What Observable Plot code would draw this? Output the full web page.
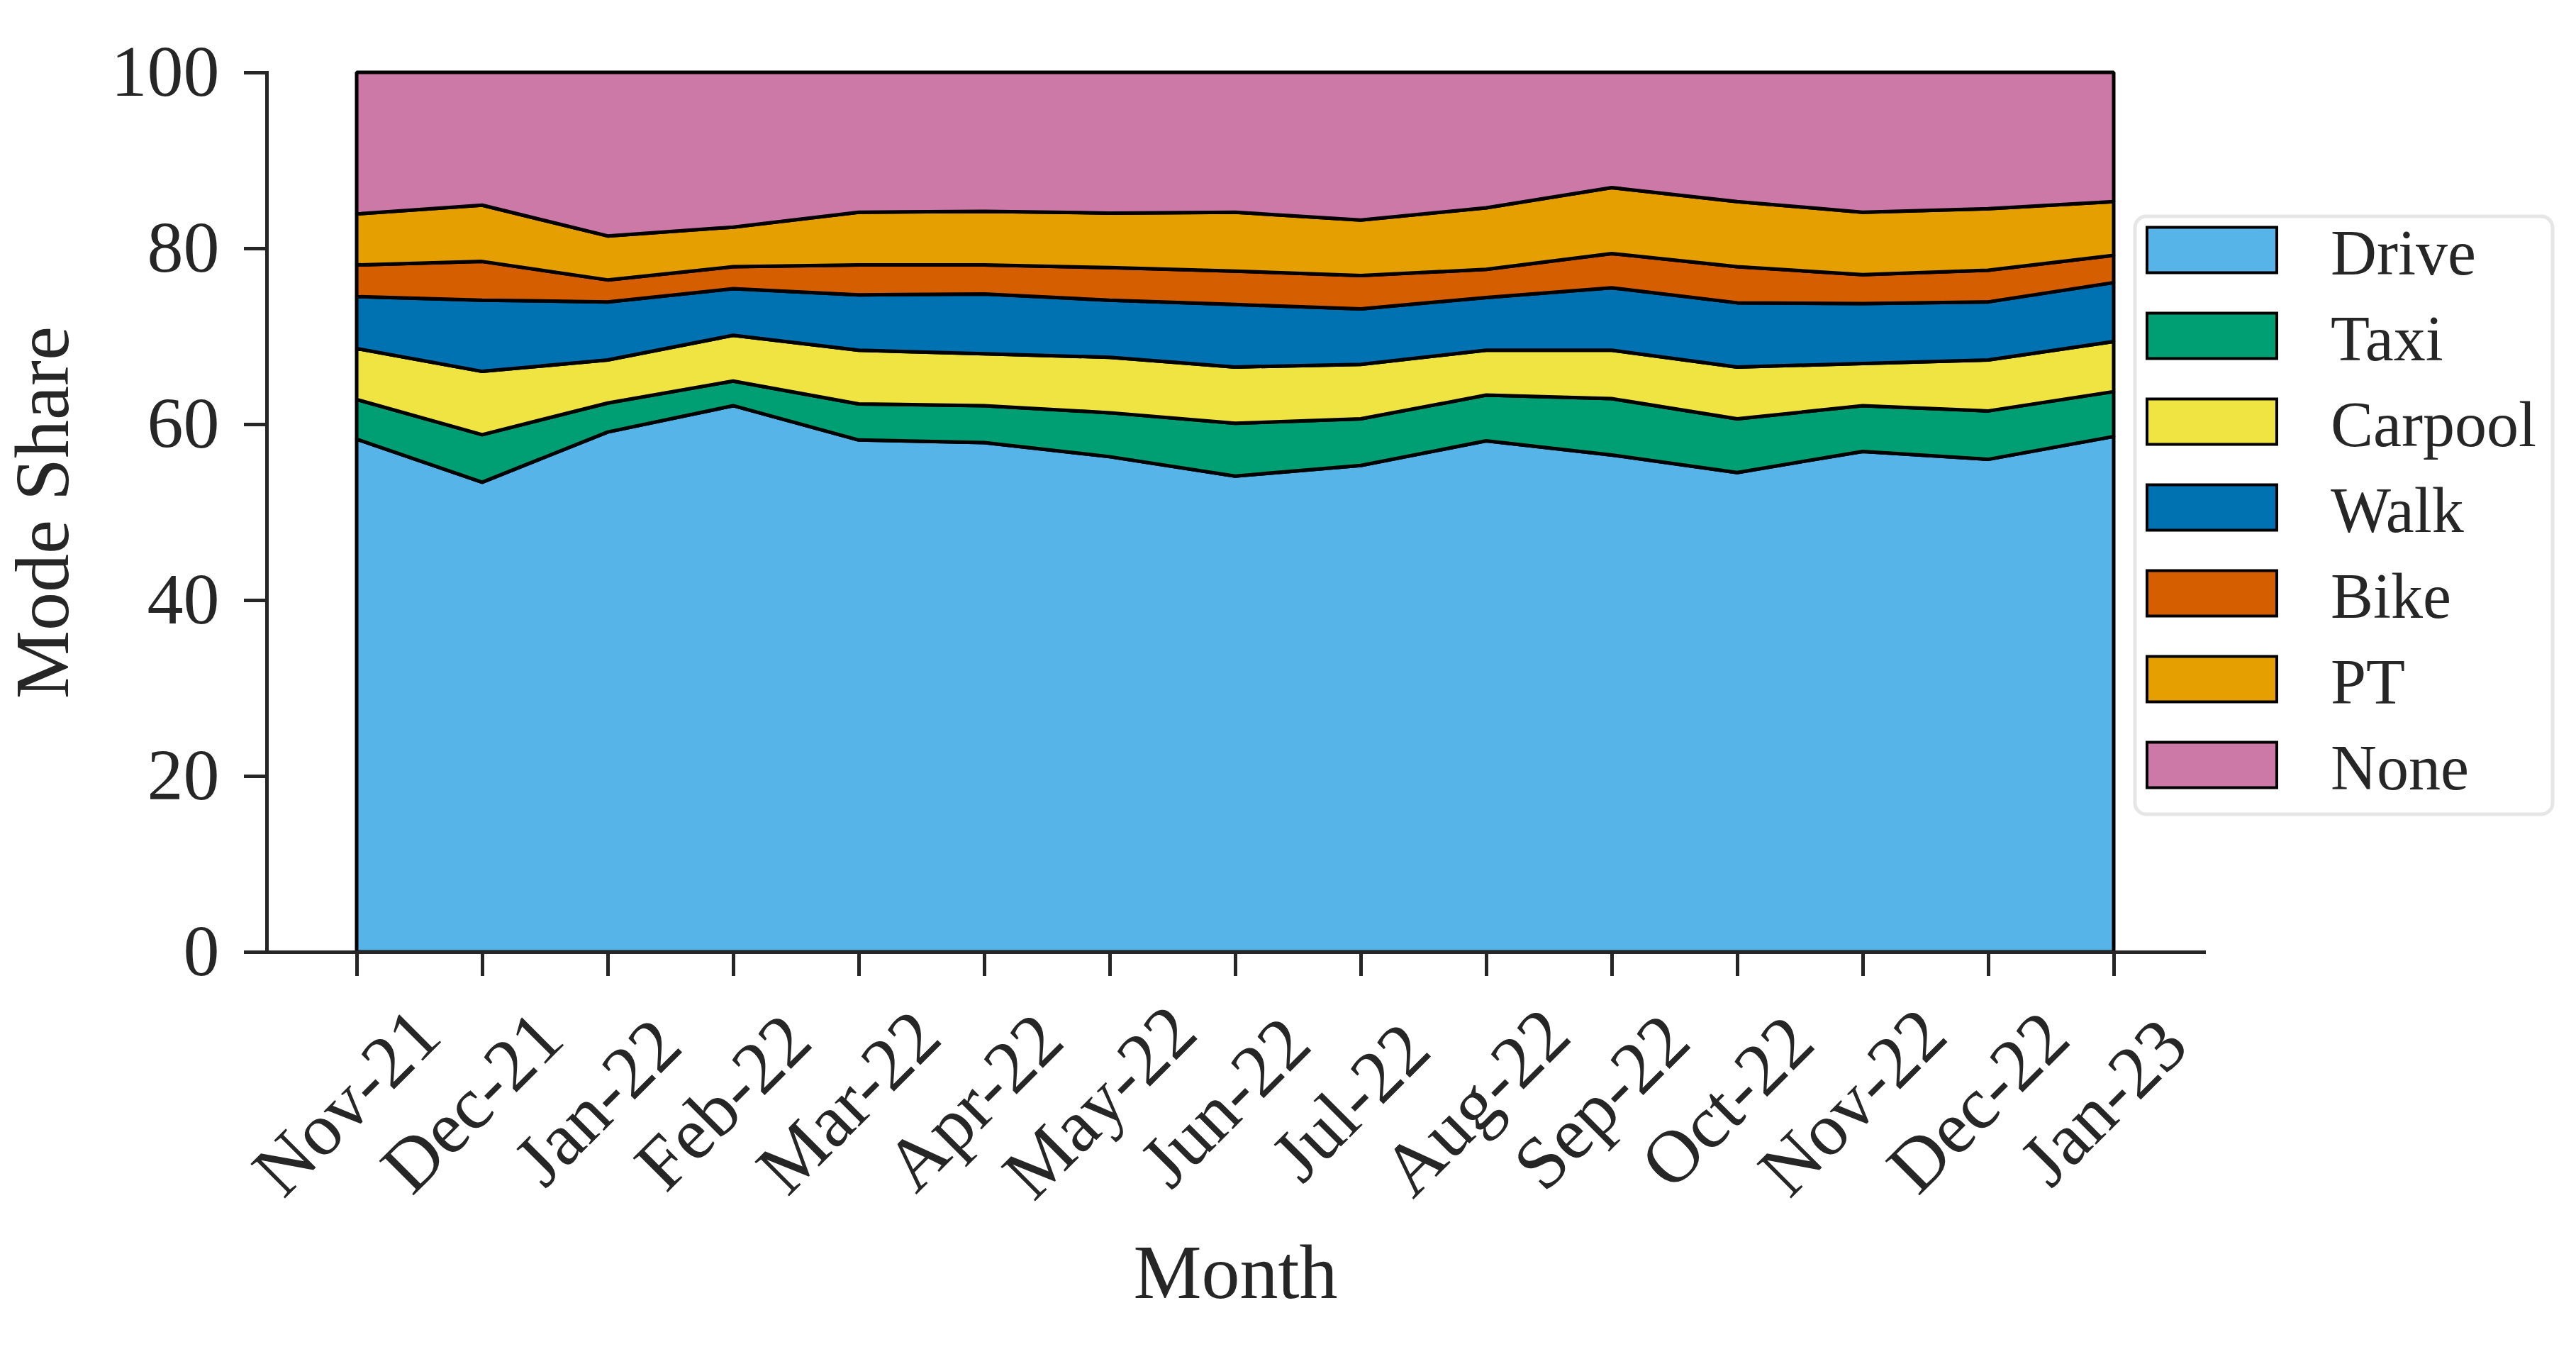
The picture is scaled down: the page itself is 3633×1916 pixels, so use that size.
<!DOCTYPE html>
<html><head><meta charset="utf-8">
<script src="https://cdn.jsdelivr.net/npm/d3@7"></script>
<script src="https://cdn.jsdelivr.net/npm/@observablehq/plot@0.6"></script>
<style>
body{margin:0;background:#fff;}
#wrap{position:relative;width:3633px;height:1916px;}
#wrap svg{display:block;}
</style>
</head><body><div id="wrap"></div>
<script>
const months = ["Nov-21","Dec-21","Jan-22","Feb-22","Mar-22","Apr-22","May-22","Jun-22","Jul-22","Aug-22","Sep-22","Oct-22","Nov-22","Dec-22","Jan-23"];
const modes = ["Drive","Taxi","Carpool","Walk","Bike","PT","None"];
const colors = ["#56B4E9","#009E73","#F0E442","#0072B2","#D55E00","#E69F00","#CC79A7"];

const drive   = [58.3,53.4,59.1,62.1,58.2,57.9,56.3,54.1,55.3,58.1,56.5,54.5,56.9,56.0,58.6];
const taxi    = [4.5,5.4,3.3,2.8,4.1,4.2,5.0,6.0,5.3,5.2,6.4,6.1,5.2,5.5,5.1];
const carpool = [5.8,7.2,4.9,5.2,6.1,5.9,6.3,6.4,6.2,5.1,5.5,5.9,4.8,5.8,5.7];
const walk    = [5.9,8.1,6.6,5.3,6.3,6.8,6.5,7.1,6.3,6.0,7.1,7.3,6.8,6.6,6.7];
const bike    = [3.6,4.4,2.5,2.5,3.4,3.3,3.7,3.8,3.8,3.2,3.9,4.1,3.3,3.6,3.1];
const pt      = [5.8,6.4,5.0,4.5,6.0,6.1,6.2,6.7,6.3,7.0,7.5,7.4,7.1,7.0,6.1];
const none    = [16.1,15.1,18.6,17.6,15.9,15.8,16.0,15.9,16.8,15.4,13.1,14.7,15.9,15.5,14.7];
const yTicks  = [0,20,40,60,80,100];

const seriesByMode = {Drive: drive, Taxi: taxi, Carpool: carpool, Walk: walk, Bike: bike, PT: pt, None: none};
const data = modes.flatMap(m => months.map((mo, i) => ({month: mo, mode: m, value: seriesByMode[m][i]})));

const W = 3633, H = 1916;
const ink = "#262626";
const font = "'Liberation Serif', 'Times New Roman', serif";

const chart = Plot.plot({
  width: W, height: H,
  marginLeft: 376, marginRight: W - 3108, marginTop: 102, marginBottom: H - 1342,
  style: {fontFamily: font, color: ink, background: "white"},
  x: {type: "point", domain: months, padding: 0.7, label: null},
  y: {domain: [0, 100], label: null},
  color: {domain: modes, range: colors},
  marks: [
    Plot.areaY(data, {x: "month", y: "value", z: "mode", fill: "mode", stroke: "black", strokeWidth: 5, strokeLinejoin: "miter"}),
    Plot.frame({anchor: "left", stroke: ink, strokeWidth: 5}),
    Plot.frame({anchor: "bottom", stroke: ink, strokeWidth: 5}),
    Plot.axisY({ticks: yTicks, tickSize: 32, tickPadding: 35, fontSize: 102, strokeWidth: 5, label: null, stroke: ink, fill: ink}),
    Plot.axisX({tickSize: 34, tickFormat: () => "", strokeWidth: 5, label: null, stroke: ink}),
    Plot.text(months, {x: d => d, text: d => d, frameAnchor: "bottom", dy: 212, dx: -14, rotate: -45, fontSize: 105, textAnchor: "middle", lineAnchor: "middle", fill: ink}),
    Plot.text(["Month"], {text: d => d, frameAnchor: "bottom", textAnchor: "middle", dy: 487, lineAnchor: "bottom", fontSize: 108, fill: ink}),
    Plot.text(["Mode Share"], {text: d => d, frameAnchor: "left", textAnchor: "middle", dx: -281, rotate: -90, lineAnchor: "bottom", fontSize: 108, fill: ink})
  ]
});
document.getElementById("wrap").appendChild(chart);

// Legend (right of the plot)
const leg = d3.select("#wrap").append("svg")
  .attr("width", W).attr("height", H)
  .style("position", "absolute").style("left", "0px").style("top", "0px")
  .style("pointer-events", "none");
leg.append("rect").attr("x", 3011).attr("y", 305).attr("width", 589).attr("height", 843)
  .attr("rx", 16).attr("fill", "white").attr("stroke", "#e6e6e6").attr("stroke-width", 5);
modes.forEach((m, i) => {
  const top = 318.5 + i * 121;
  leg.append("rect").attr("x", 3028).attr("y", top + 2).attr("width", 183).attr("height", 64)
    .attr("fill", colors[i]).attr("stroke", "black").attr("stroke-width", 4);
  leg.append("text").attr("x", 3287).attr("y", top + 68)
    .attr("font-family", font).attr("font-size", 90).attr("fill", ink).text(m);
});
</script>
</body></html>
